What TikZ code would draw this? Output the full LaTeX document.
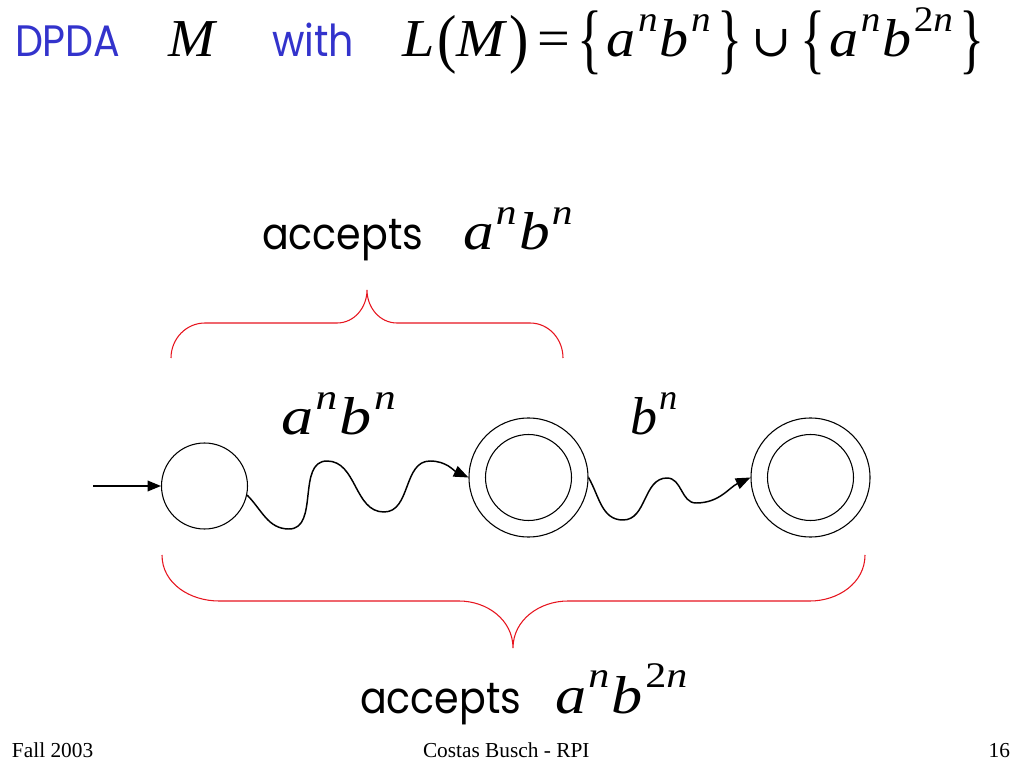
\documentclass[tikz,border=0pt]{standalone}
\usepackage{fontspec}
\usepackage{graphicx}
\setmainfont{Liberation Serif}
\newfontfamily\cfont[FakeStretch=0.9]{Poppins}
\newfontfamily\tms{Liberation Serif}
\newfontfamily\dvs{DejaVu Serif}
\usetikzlibrary{arrows.meta}
\definecolor{ttl}{RGB}{51,51,204}
\definecolor{brc}{RGB}{230,20,30}
\newcommand\pw[1]{\kern1.5pt\raisebox{19pt}{\fontsize{27}{27}\selectfont #1}\kern1.5pt}
\newcommand\tpar[1]{\raisebox{-2.5pt}{\scalebox{1}[1.22]{\upshape #1}}}
\newcommand\tbr[1]{\raisebox{-6pt}{\scalebox{0.9}[1.45]{\upshape #1}}}
\newcommand\fitw[2]{\resizebox{#1}{\height}{#2}}
\begin{document}
\begin{tikzpicture}[x=0.75pt,y=0.75pt,
  st/.style={circle,draw,line width=0.8pt,minimum size=64.5pt,inner sep=0pt},
  fin/.style={circle,draw,line width=0.8pt,minimum size=89.25pt,inner sep=0pt},
  txt/.style={anchor=base west,inner sep=0pt,outer sep=0pt},
  sans/.style={txt,font=\fontsize{33}{33}\cfont},
  mth/.style={txt,font=\fontsize{40}{40}\tms\itshape},
  arr/.style={line width=1pt,-{Triangle[length=10pt,width=8pt]}},
  wave/.style={line width=1.1pt,-{Triangle[length=11pt,width=8.5pt]}},
  brace/.style={draw=brc,line width=0.8pt},
  foot/.style={txt,font=\fontsize{16}{16}\tms}]
\useasboundingbox (0,0) rectangle (1024,768);

% title
\node[sans,text=ttl] (t1) at (15,711) {DPDA};
\node[mth] (t2) at (168,711) {\fitw{35pt}{M}};
\node[sans,text=ttl] (t3) at (272,711) {with};
\node[mth] (t4) at (402,711) {\fitw{437pt}{L\kern2pt\tpar{(}M\kern3pt\tpar{)}\kern6pt{\upshape=}\kern5pt\tbr{\{}\kern3pt a\pw{n}b\pw{n}\kern3pt\tbr{\}}\kern6pt{\upshape\dvs\fontsize{33}{33}\selectfont ∪}\kern6pt\tbr{\{}\kern3pt a\pw{n}b\pw{\upshape 2\itshape n}\kern3pt\tbr{\}}}};

% top label
\node[sans] (acc1) at (262,518) {accepts};
\node[mth] (l1) at (463,518) {\fitw{84pt}{a\pw{n}b\pw{n}}};

% states
\node[st] (c1) at (204.5,282) {};
\node[fin] (c2) at (528.5,290.5) {};
\node[st] (c2i) at (528.5,290.5) {};
\node[fin] (c3) at (810.5,290.5) {};
\node[st] (c3i) at (810.5,290.5) {};
\coordinate (start) at (93,282);
\draw[arr] (start) -- (c1);

% waves
\draw[wave] (c1.-12) to[out=-45,in=180] (289,239) to[out=0,in=180] (327,307)
  to[out=0,in=180] (384,256) to[out=0,in=180] (430,307) to[out=0,in=155] (c2.180);
\draw[wave] (c2.0) to[out=-60,in=180] (623,248) to[out=0,in=180] (667,290)
  to[out=0,in=180] (696,265) to[out=0,in=205] (c3.180);

\node[mth] (w1) at (281,333) {\fitw{88pt}{a\pw{n}b\pw{n}}};
\node[mth] (w2) at (630,333) {\fitw{37pt}{b\pw{n}}};

% braces
\draw[brace] (171,410) to[out=90,in=180] (205,445) -- (337,445)
  to[out=0,in=-90] (367,478) to[out=-90,in=180] (397,445) -- (530,445)
  to[out=0,in=90] (563,410);
\draw[brace] (162,213) to[out=-90,in=180] (219,167) -- (459,167)
  to[out=0,in=90] (513,120) to[out=90,in=180] (568,167) -- (810,167)
  to[out=0,in=-90] (865,213);

% bottom label
\node[sans] (acc2) at (360,55) {accepts};
\node[mth] (l2) at (555,55) {\fitw{101pt}{a\pw{n}b\pw{\upshape 2\itshape n}}};

% footer
\node[foot] (f1) at (12,11) {Fall 2003};
\node[foot] (f2) at (423,11) {Costas Busch - RPI};
\node[foot,anchor=base east] (f3) at (1010,11) {16};
\end{tikzpicture}
\end{document}
